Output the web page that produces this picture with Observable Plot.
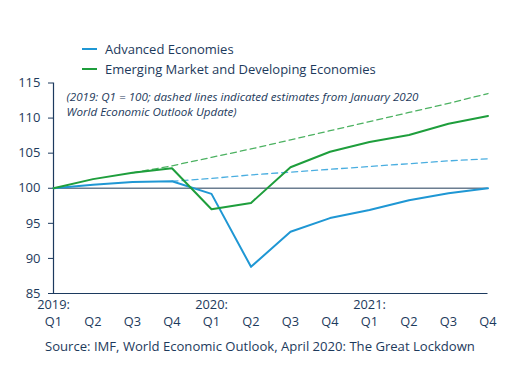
<!DOCTYPE html>
<html><head><meta charset="utf-8">
<script src="https://cdn.jsdelivr.net/npm/d3@7"></script>
<script src="https://cdn.jsdelivr.net/npm/@observablehq/plot@0.6"></script>
<style>
body{margin:0;background:#fff;font-family:"Open Sans",sans-serif;color:#1d3a5c}
#wrap{position:relative;width:512px;height:368px;overflow:hidden}
.leg{position:absolute;left:82px;font-size:13px;line-height:16px;display:flex;align-items:center;white-space:nowrap}
.sw{display:inline-block;width:15px;height:0;border-top:2px solid;margin-right:8px}
#chart{position:absolute;left:0;top:66px}
#cap{position:absolute;left:45px;top:338px;font-size:13.1px;line-height:16px;white-space:nowrap}
</style></head><body>
<div id="wrap">
  <div id="chart"></div>
  <div class="leg" id="leg0" style="top:41px"><span class="sw" id="sw0"></span><span id="lt0"></span></div>
  <div class="leg" id="leg1" style="top:60.5px"><span class="sw" id="sw1"></span><span id="lt1"></span></div>
  <div id="cap"></div>
</div>
<script>
const quarters = ["Q1","Q2","Q3","Q4","Q1","Q2","Q3","Q4","Q1","Q2","Q3","Q4"];
const years = ["2019:","","","","2020:","","","","2021:","","",""];
const yTicks = [85, 90, 95, 100, 105, 110, 115];
const seriesNames = ["Advanced Economies", "Emerging Market and Developing Economies"];
const seriesColors = ["#1f97d4", "#1e9e3c"];
const estimateColors = ["#4aaee0", "#4db262"];
const advanced = [100, 100.5, 100.9, 101.0, 99.2, 88.8, 93.8, 95.75, 96.9, 98.3, 99.3, 100.0];
const emerging = [100, 101.3, 102.2, 102.85, 97.0, 97.9, 103.0, 105.2, 106.6, 107.6, 109.2, 110.3];
const advancedJan = [null, null, null, 101.0, 101.4, 101.9, 102.3, 102.7, 103.1, 103.5, 103.9, 104.2];
const emergingJan = [null, null, 102.2, 103.2, 104.4, 105.6, 106.9, 108.2, 109.5, 110.8, 112.1, 113.5];
const baseline = 100;
const note = "(2019: Q1 = 100; dashed lines indicated estimates from January 2020\nWorld Economic Outlook Update)";
const source = "Source: IMF, World Economic Outlook, April 2020: The Great Lockdown";

const axisColor = "#1c3a5e";
const textColor = "#1d3a5c";

document.getElementById("lt0").textContent = seriesNames[0];
document.getElementById("lt1").textContent = seriesNames[1];
document.getElementById("sw0").style.borderColor = seriesColors[0];
document.getElementById("sw1").style.borderColor = seriesColors[1];
document.getElementById("cap").textContent = source;

const idx = d3.range(quarters.length);
const toRows = arr => arr.map((v, i) => ({i, v})).filter(d => d.v != null);

const chart = Plot.plot({
  width: 512, height: 268,
  marginTop: 16.5, marginLeft: 53, marginRight: 24.5, marginBottom: 41,
  x: {type: "linear", domain: [0, quarters.length - 1], axis: null},
  y: {domain: [85, 115], axis: null},
  style: {fontFamily: "'Open Sans', sans-serif", fontSize: "13px", color: textColor, background: "transparent"},
  marks: [
    Plot.ruleY([baseline], {stroke: "#6b7d90", strokeWidth: 1.5}),
    Plot.axisY(yTicks, {label: null, tickSize: 5, tickPadding: 8, stroke: axisColor, fill: textColor, fontSize: 13, tickFormat: d => d}),
    Plot.ruleX([0], {y1: 85, y2: 115, stroke: axisColor, strokeWidth: 1.2}),
    Plot.ruleY([85], {x1: 0, x2: quarters.length - 1, stroke: axisColor, strokeWidth: 1.2}),
    Plot.axisX(idx, {label: null, tickSize: 0, tickPadding: 6, tickFormat: (d) => years[d], fill: textColor, fontSize: 12.8}),
    Plot.axisX(idx, {label: null, tickSize: 0, tickPadding: 23, tickFormat: (d) => quarters[d], fill: textColor, fontSize: 12.8}),
    Plot.line(toRows(advancedJan), {x: "i", y: "v", stroke: estimateColors[0], strokeWidth: 1.3, strokeDasharray: "6,4"}),
    Plot.line(toRows(emergingJan), {x: "i", y: "v", stroke: estimateColors[1], strokeWidth: 1.3, strokeDasharray: "6,4"}),
    Plot.line(toRows(advanced), {x: "i", y: "v", stroke: seriesColors[0], strokeWidth: 2}),
    Plot.line(toRows(emerging), {x: "i", y: "v", stroke: seriesColors[1], strokeWidth: 2}),
    Plot.text([note], {frameAnchor: "top-left", dx: 13, dy: 7, lineAnchor: "top", textAnchor: "start", fontStyle: "italic", fontSize: 11.6, lineHeight: 1.32, fill: textColor})
  ]
});
document.getElementById("chart").appendChild(chart);
</script>
</body></html>
